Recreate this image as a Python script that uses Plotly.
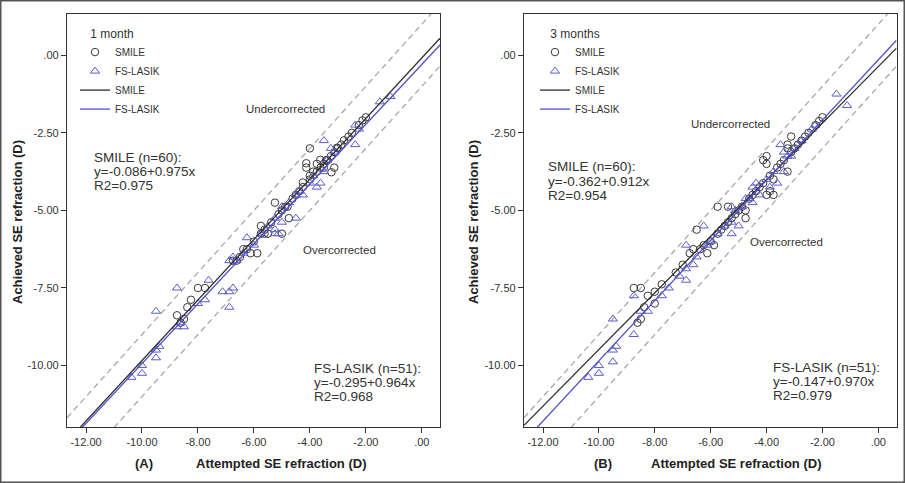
import plotly.graph_objects as go

W, H = 905, 483

# ---------------- data ----------------
panels = ["A", "B"]
timepoints = ["1 month", "3 months"]
groups = ["SMILE", "FS-LASIK"]
n_eyes = [60, 51]

# regression: intercept, slope, R2  (per panel, per group)
intercepts = [[-0.086, -0.295], [-0.362, -0.147]]
slopes = [[0.975, 0.964], [0.912, 0.970]]
r2_values = [[0.975, 0.968], [0.954, 0.979]]

# Panel A, 1 month
smile_1m_x = [-2.00, -2.12, -2.62, -2.78, -3.03, -3.25, -3.13, -3.23, -3.42, -3.63,
              -3.75, -4.00, -4.13, -4.13, -3.88, -4.00, -4.25, -3.50, -3.38, -4.80,
              -5.00, -5.25, -4.75, -5.00, -5.50, -5.75, -5.75, -5.62, -6.00, -6.12,
              -5.88, -6.25, -6.62, -6.50, -7.75, -8.00, -8.25, -8.38, -8.50, -8.75,
              -5.12, -4.50, -4.62, -4.38, -4.25, -3.62, -3.50, -2.88, -3.12, -2.50,
              -6.38, -5.38, -4.88, -6.75, -8.62, -4.00, -3.75, -2.25, -5.62, -3.00]
smile_1m_y = [-2.00, -2.10, -2.62, -2.74, -2.98, -3.25, -3.62, -3.77, -3.38, -3.37,
              -3.50, -3.00, -3.48, -3.62, -3.75, -3.88, -4.10, -3.50, -3.38, -4.88,
              -5.00, -4.75, -5.25, -5.75, -5.75, -5.50, -5.75, -5.62, -6.00, -6.38,
              -6.38, -6.25, -6.62, -6.50, -7.50, -7.50, -7.88, -8.12, -8.50, -8.38,
              -5.12, -4.50, -4.62, -4.38, -4.25, -3.62, -3.62, -2.88, -3.12, -2.50,
              -6.25, -5.38, -4.88, -6.62, -8.62, -4.00, -3.75, -2.25, -5.75, -3.00]
lasik_1m_x = [-1.12, -1.50, -2.25, -2.38, -2.38, -3.50, -3.25, -3.12, -3.38, -3.62,
              -3.75, -4.25, -4.50, -4.38, -4.50, -5.00, -5.25, -5.12, -5.25, -5.25,
              -5.00, -6.25, -6.00, -6.88, -6.75, -6.62, -7.62, -7.75, -7.12, -6.88,
              -6.75, -6.88, -8.00, -8.75, -9.50, -8.50, -8.75, -8.62, -9.38, -9.50,
              -9.50, -10.00, -10.00, -10.38, -3.88, -4.00, -5.50, -5.75, -6.38, -4.75,
              -3.50]
lasik_1m_y = [-1.33, -1.50, -2.38, -2.88, -2.25, -2.75, -3.00, -3.12, -3.38, -4.12,
              -4.25, -4.50, -4.50, -4.38, -5.25, -5.38, -5.62, -5.75, -5.75, -5.25,
              -4.88, -5.88, -6.12, -6.62, -6.50, -6.62, -7.25, -7.88, -7.62, -7.62,
              -7.50, -8.12, -8.00, -7.50, -8.25, -8.75, -8.75, -8.62, -9.38, -9.50,
              -9.75, -10.00, -10.25, -10.38, -3.88, -4.12, -5.50, -5.75, -6.38, -4.75,
              -3.75]

# Panel B, 3 months
smile_3m_x = [-2.00, -2.12, -3.12, -2.75, -2.62, -3.25, -3.25, -3.25, -4.00, -4.12,
              -4.00, -4.12, -3.75, -3.75, -4.00, -3.88, -4.75, -4.75, -5.38, -5.75,
              -6.50, -5.75, -5.88, -6.12, -6.62, -6.75, -7.75, -8.50, -8.75, -8.25,
              -8.00, -8.00, -8.38, -8.50, -8.62, -3.00, -3.38, -3.50, -3.62, -4.38,
              -4.50, -4.62, -5.00, -5.12, -5.25, -5.50, -5.62, -6.00, -6.25, -7.00,
              -2.25, -2.50, -4.25, -3.12, -4.88, -5.38, -6.38, -3.88, -7.25, -2.88]
smile_3m_y = [-2.00, -2.12, -2.62, -2.75, -2.62, -2.88, -3.00, -3.75, -3.25, -3.38,
              -3.50, -4.12, -4.00, -4.50, -4.50, -4.38, -5.00, -5.25, -4.88, -4.88,
              -5.62, -5.75, -6.12, -6.38, -6.25, -6.38, -7.38, -7.50, -7.50, -7.75,
              -7.62, -8.00, -8.12, -8.50, -8.62, -3.00, -3.38, -3.50, -3.62, -4.38,
              -4.50, -4.62, -5.00, -5.12, -5.25, -5.50, -5.62, -6.00, -6.12, -6.75,
              -2.25, -2.50, -4.25, -3.12, -4.88, -5.38, -6.25, -3.88, -7.00, -2.88]
lasik_3m_x = [-1.50, -1.12, -2.38, -2.25, -3.50, -3.38, -3.38, -3.62, -4.38, -4.50,
              -4.25, -4.50, -5.25, -5.12, -5.00, -5.25, -5.25, -6.25, -6.88, -6.88,
              -6.88, -7.12, -7.75, -8.75, -9.50, -8.75, -8.50, -9.38, -9.50, -9.50,
              -10.00, -10.00, -10.38, -3.75, -3.25, -3.00, -4.00, -4.62, -4.88, -5.50,
              -6.12, -6.50, -6.62, -8.25, -3.88, -2.75, -6.00, -5.75, -4.75, -7.50,
              -3.12]
lasik_3m_y = [-1.25, -1.62, -2.38, -2.25, -2.88, -3.12, -3.75, -4.12, -4.12, -4.25,
              -4.50, -4.75, -4.88, -5.00, -5.50, -5.75, -5.38, -5.50, -6.12, -6.88,
              -7.25, -7.12, -7.75, -7.75, -8.50, -9.00, -8.25, -9.38, -9.50, -9.88,
              -10.00, -10.25, -10.38, -3.75, -3.25, -3.00, -4.00, -4.62, -4.88, -5.50,
              -6.12, -6.50, -6.75, -8.25, -4.25, -2.75, -6.00, -5.75, -4.62, -7.50,
              -3.25]

points = [
    [(smile_1m_x, smile_1m_y), (lasik_1m_x, lasik_1m_y)],
    [(smile_3m_x, smile_3m_y), (lasik_3m_x, lasik_3m_y)],
]

tick_x_vals = [-12, -10, -8, -6, -4, -2, 0]
tick_x_text = ["-12.00", "-10.00", "-8.00", "-6.00", "-4.00", "-2.00", ".00"]
tick_y_vals = [0, -2.5, -5, -7.5, -10]
tick_y_text = [".00", "-2.50", "-5.00", "-7.50", "-10.00"]
band_offsets = [1.0, -1.0]

x_range = [-12.68, 0.65]
y_range = [-11.98, 1.33]

# ---------------- styling ----------------
FONT = "Arial, 'Liberation Sans', sans-serif"
DARK = "#3a3a3a"
BLUE = "#5c5cc8"
group_colors = [DARK, BLUE]
group_symbols = ["circle-open", "triangle-up-open"]
group_sizes = [7.5, 8]
line_colors = ["#2e2e2e", "#5050c8"]

# plot area geometry (pixels)
px_domains = [(67, 440), (524, 896.5)]
py_top, py_bottom = 14, 427


def px(x):
    return x / W


def py(y):
    return 1 - y / H


fig = go.Figure()

for i in range(2):
    xa = "x" if i == 0 else "x2"
    ya = "y" if i == 0 else "y2"
    legend_name = "legend" if i == 0 else "legend2"
    # dashed +/- 1 D lines
    for off in band_offsets:
        fig.add_trace(go.Scatter(
            x=x_range, y=[x_range[0] + off, x_range[1] + off], mode="lines",
            line=dict(color="#a8a8a8", width=1.3, dash="6px,4px"),
            showlegend=False, hoverinfo="skip", xaxis=xa, yaxis=ya))
    # scatter points
    for g in range(2):
        xs, ys = points[i][g]
        fig.add_trace(go.Scatter(
            x=xs, y=ys, mode="markers", name=groups[g],
            marker=dict(symbol=group_symbols[g], size=group_sizes[g],
                        color=group_colors[g], line=dict(width=1, color=group_colors[g])),
            legend=legend_name, xaxis=xa, yaxis=ya))
    # regression lines
    for g in range(2):
        a, b = intercepts[i][g], slopes[i][g]
        fig.add_trace(go.Scatter(
            x=x_range, y=[a + b * x_range[0], a + b * x_range[1]], mode="lines",
            name=groups[g], line=dict(color=line_colors[g], width=1.3),
            legend=legend_name, xaxis=xa, yaxis=ya, hoverinfo="skip"))

axis_common = dict(
    showgrid=False, zeroline=False, showline=True, mirror=True,
    linecolor="#333333", linewidth=1.3, ticks="outside", ticklen=5,
    tickcolor="#333333", tickwidth=1,
    tickfont=dict(family=FONT, size=11, color="#333333"),
)

layout_axes = {}
for i in range(2):
    sx = "xaxis" if i == 0 else "xaxis2"
    sy = "yaxis" if i == 0 else "yaxis2"
    x0, x1 = px_domains[i]
    layout_axes[sx] = dict(axis_common, domain=[px(x0), px(x1)], range=x_range,
                           tickvals=tick_x_vals, ticktext=tick_x_text,
                           anchor="y" if i == 0 else "y2")
    layout_axes[sy] = dict(axis_common, domain=[py(py_bottom), py(py_top)], range=y_range,
                           tickvals=tick_y_vals, ticktext=tick_y_text,
                           anchor="x" if i == 0 else "x2")

legend_common = dict(
    bgcolor="rgba(0,0,0,0)", borderwidth=0,
    font=dict(family=FONT, size=10, color="#333333"),
    xanchor="left", yanchor="top", itemwidth=30, tracegroupgap=0,
)

PAD = "&nbsp;" * 4
fig.update_layout(
    width=W, height=H,
    margin=dict(l=0, r=0, t=0, b=0),
    paper_bgcolor="white", plot_bgcolor="white",
    showlegend=True,
    legend=dict(legend_common, x=px(75), y=py(22),
                title=dict(text=PAD + timepoints[0], font=dict(family=FONT, size=12, color="#333333"))),
    legend2=dict(legend_common, x=px(535), y=py(22),
                 title=dict(text=PAD + timepoints[1], font=dict(family=FONT, size=12, color="#333333"))),
    **layout_axes,
)

# ---------------- annotations ----------------
ann = []
TXT = "#333333"


def add_text(text, x, y, size, xanchor="left", bold=False, angle=0):
    ann.append(dict(
        text=f"<b>{text}</b>" if bold else text,
        x=px(x), y=py(y), xref="paper", yref="paper",
        xanchor=xanchor, yanchor="middle", showarrow=False, textangle=angle,
        font=dict(family=FONT, size=size, color="#222222" if bold else TXT)))


under_pos = [(285.5, 109), (730, 124)]
over_pos = [(339, 250), (786.5, 242)]
eq_pos = [[(92, 157), (312, 368)], [(546, 167), (771, 367)]]
ytitle_x = [17, 473]
panel_label_x = [143.5, 603.3]
xtitle_x = [281, 735.5]

for i in range(2):
    add_text("Undercorrected", *under_pos[i], 11.5, xanchor="center")
    add_text("Overcorrected", *over_pos[i], 11.5, xanchor="center")
    for g in range(2):
        ex, ey = eq_pos[i][g]
        lines = [f"{groups[g]} (n={n_eyes[g]}):",
                 f"y={intercepts[i][g]:.3f}+{slopes[i][g]:.3f}x",
                 f"R2={r2_values[i][g]:.3f}"]
        for k, t in enumerate(lines):
            add_text(t, ex, ey + 14 * k, 13.5)
    add_text("Achieved SE refraction (D)", ytitle_x[i], 222, 13, xanchor="center", bold=True, angle=-90)
    add_text(f"({panels[i]})", panel_label_x[i], 463, 13, xanchor="center", bold=True)
    add_text("Attempted SE refraction (D)", xtitle_x[i], 463, 13, xanchor="center", bold=True)

fig.update_layout(annotations=ann)

# outer frame
fig.add_shape(type="rect", xref="paper", yref="paper", x0=0, x1=1, y0=0, y1=1,
              line=dict(color="#555555", width=3), fillcolor="rgba(0,0,0,0)")

fig.write_html("out.html",
               config={"displayModeBar": False},
               post_script="document.body.style.margin='0';document.body.style.overflow='hidden';")
